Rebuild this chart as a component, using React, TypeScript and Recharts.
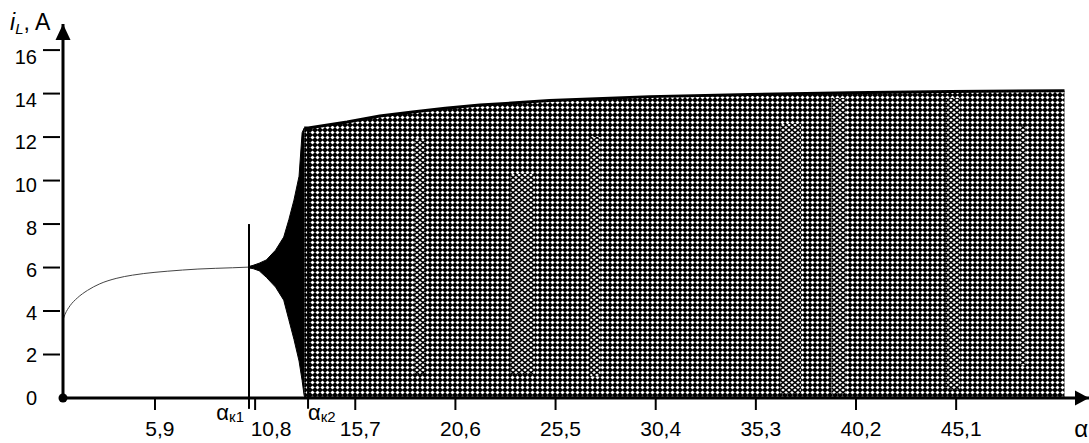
import React from "react";
import {
  Area,
  ComposedChart,
  Line,
  ReferenceDot,
  ReferenceLine,
  XAxis,
  YAxis,
} from "recharts";

// stable branch (single value of i_L)
const stableA = [1.4, 1.5, 1.75, 2.1, 2.6, 3.2, 4.0, 4.8, 5.9, 6.5, 8.0, 9.7, 10.5];
const stableI = [3.6, 3.85, 4.25, 4.6, 4.95, 5.25, 5.5, 5.65, 5.78, 5.83, 5.93, 5.99, 6.02];

// widening band after alpha_k1
const bandA = [10.5, 10.7, 11.0, 11.35, 11.8, 12.2, 12.45, 12.7, 12.95, 13.1, 13.2];
const bandLo = [5.98, 5.95, 5.85, 5.55, 5.1, 4.5, 3.6, 2.7, 1.7, 0.8, 0.1];
const bandHi = [6.05, 6.1, 6.2, 6.35, 6.8, 7.4, 8.2, 9.1, 10.2, 12.2, 12.42];

// chaotic region, from 0 up to the envelope
const chaosA = [13.2, 13.4, 15.3, 16.9, 18.5, 20.1, 21.8, 25.2, 30.1, 35.0, 39.9, 44.8, 50.4];
const chaosHi = [12.42, 12.42, 12.69, 12.97, 13.15, 13.33, 13.47, 13.68, 13.86, 13.96, 14.04, 14.1, 14.13];

// lighter (sparser) columns inside the chaotic region
const streakFrom = [18.6, 23.3, 27.2, 36.5, 39.0, 44.6, 48.2];
const streakTo = [19.1, 24.5, 27.7, 37.5, 39.7, 45.3, 48.5];
const streakLo = [1.1, 1.1, 1.0, 0.2, 0.2, 0.4, 1.5];
const streakHi = [11.9, 10.3, 12.0, 12.6, 13.8, 13.8, 12.5];

const xTicks = [5.9, 10.8, 15.7, 20.6, 25.5, 30.4, 35.3, 40.2, 45.1];
const yTicks = [0, 2, 4, 6, 8, 10, 12, 14, 16];

const critA = [10.5, 13.39];
const critTop = [8, 12.4];
const critSub = ["к1", "к2"];

const X_MIN = 1.4;
const X_MAX = 51.6;
const Y_MAX = 17.2;

const rows = new Map<number, any>();
const put = (a: number, key: string, v: any) => {
  const r = rows.get(a) ?? { a };
  r[key] = v;
  rows.set(a, r);
};
stableA.forEach((a, i) => put(a, "stable", stableI[i]));
bandA.forEach((a, i) => put(a, "band", [bandLo[i], bandHi[i]]));
chaosA.forEach((a, i) => put(a, "chaos", [0, chaosHi[i]]));
streakFrom.forEach((a, i) => {
  put(a, "s" + i, [streakLo[i], streakHi[i]]);
  put(streakTo[i], "s" + i, [streakLo[i], streakHi[i]]);
});
const data = [...rows.values()].sort((p, q) => p.a - q.a);

const FONT = "'Liberation Sans', Arial, sans-serif";
const tickShift: Record<string, number> = { "10.8": 16 };

function YTick({ x, y, payload }: any) {
  return (
    <g>
      {payload.value !== 0 && (
        <line x1={x + 6} x2={x + 23} y1={y} y2={y} stroke="#000" strokeWidth={2} />
      )}
      <text x={x} y={y} dy={7 + payload.value * 0.45} textAnchor="end" fontSize={20} fill="#000" fontFamily={FONT}>
        {payload.value}
      </text>
    </g>
  );
}

function XTick({ x, y, payload }: any) {
  const dx = tickShift[String(payload.value)] ?? 5;
  return (
    <text x={x + dx} y={y} dy={14} textAnchor="middle" fontSize={21} fill="#000" fontFamily={FONT}>
      {String(payload.value).replace(".", ",")}
    </text>
  );
}

export default function App() {
  return (
    <div style={{ position: "absolute", left: 0, top: 0, background: "#fff" }}>
      <ComposedChart
        width={1089}
        height={443}
        data={data}
        margin={{ top: 24, right: 0, bottom: 0, left: 3 }}
      >
        <defs>
          <pattern id="chaos" patternUnits="userSpaceOnUse" width={5} height={5}>
            <rect width={5} height={5} fill="#000" />
            <polygon points="2.5,0.4 4.6,2.5 2.5,4.6 0.4,2.5" fill="#fff" />
          </pattern>
          <pattern id="light" patternUnits="userSpaceOnUse" width={6} height={5}>
            <rect width={6} height={5} fill="#fff" />
            <path d="M0,0 L6,5 M6,0 L0,5" stroke="#000" strokeWidth={1.5} />
          </pattern>
        </defs>
        <XAxis
          type="number"
          dataKey="a"
          domain={[X_MIN, X_MAX]}
          ticks={xTicks}
          interval={0}
          allowDataOverflow
          height={45}
          tickSize={12}
          tickMargin={12}
          axisLine={{ stroke: "#000", strokeWidth: 3 }}
          tickLine={{ stroke: "#000", strokeWidth: 2 }}
          tick={<XTick />}
        />
        <YAxis
          type="number"
          domain={[0, Y_MAX]}
          ticks={yTicks}
          interval={0}
          allowDataOverflow
          width={60}
          tickSize={20}
          tickMargin={6}
          axisLine={{ stroke: "#000", strokeWidth: 3 }}
          tickLine={false}
          tick={<YTick />}
        />
        <Area
          dataKey="chaos"
          type="linear"
          connectNulls
          stroke="#000"
          strokeWidth={3}
          fill="url(#chaos)"
          fillOpacity={1}
          isAnimationActive={false}
        />
        {streakFrom.map((_, i) => (
          <Area
            key={"s" + i}
            dataKey={"s" + i}
            type="linear"
            connectNulls
            stroke="none"
            fill="url(#light)"
            fillOpacity={1}
            isAnimationActive={false}
          />
        ))}
        <Area
          dataKey="band"
          type="linear"
          connectNulls
          stroke="#000"
          strokeWidth={1}
          fill="#000"
          fillOpacity={1}
          isAnimationActive={false}
        />
        <Line
          dataKey="stable"
          type="monotone"
          connectNulls
          stroke="#444"
          strokeWidth={1}
          dot={false}
          isAnimationActive={false}
        />
        {critA.map((a, i) => (
          <ReferenceLine
            key={a}
            segment={[
              { x: a, y: -0.5 },
              { x: a, y: critTop[i] },
            ]}
            stroke="#000"
            strokeWidth={2}
            ifOverflow="visible"
          />
        ))}
        {critA.map((a, i) => (
          <ReferenceDot
            key={"l" + a}
            x={a}
            y={0}
            r={0}
            ifOverflow="visible"
            shape={(p: any) => (
              <text
                x={i === 0 ? p.cx - 5 : p.cx}
                y={p.cy + 22}
                textAnchor={i === 0 ? "end" : "start"}
                fontSize={22}
                fill="#000"
                fontFamily={FONT}
              >
                <tspan>α</tspan>
                <tspan fontSize={15} dy={2}>
                  {critSub[i]}
                </tspan>
              </text>
            )}
          />
        ))}
        <ReferenceDot x={X_MIN} y={0} r={4.5} fill="#000" stroke="none" ifOverflow="visible" />
        <ReferenceDot
          x={X_MIN}
          y={Y_MAX}
          r={0}
          ifOverflow="visible"
          shape={(p: any) => (
            <g>
              <polygon
                points={`${p.cx},${p.cy} ${p.cx - 7.5},${p.cy + 16} ${p.cx + 7.5},${p.cy + 16}`}
                fill="#000"
              />
              <text x={p.cx - 53} y={p.cy + 6} fontSize={23} fill="#000" fontFamily={FONT}>
                <tspan fontStyle="italic">i</tspan>
                <tspan fontStyle="italic" fontSize={15} dy={4}>
                  L
                </tspan>
                <tspan dy={-4}>, A</tspan>
              </text>
            </g>
          )}
        />
        <ReferenceDot
          x={X_MAX}
          y={0}
          r={0}
          ifOverflow="visible"
          shape={(p: any) => (
            <g>
              <polygon
                points={`${p.cx},${p.cy} ${p.cx - 14},${p.cy - 7.5} ${p.cx - 14},${p.cy + 7.5}`}
                fill="#000"
              />
              <text x={p.cx - 1} y={p.cy + 39} textAnchor="end" fontSize={24} fill="#000" fontFamily={FONT}>
                α
              </text>
            </g>
          )}
        />
      </ComposedChart>
    </div>
  );
}
